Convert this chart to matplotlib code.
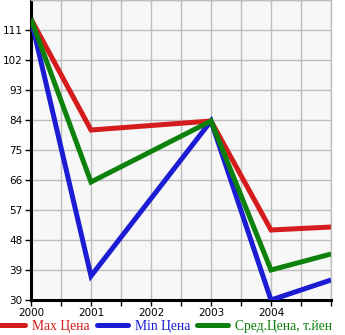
import matplotlib.pyplot as plt
import numpy as np

years = [2000, 2001, 2003, 2004, 2005]
max_price = [114.3, 81.0, 83.7, 51.0, 51.9]
min_price = [114.3, 37.2, 83.7, 30.0, 36.0]
avg_price = [114.3, 65.4, 83.7, 39.0, 43.8]
labels = ["Max Цена", "Min Цена", "Сред.Цена, т.йен"]
colors = ["#d41c1c", "#1c1cd4", "#0c820c"]
y_ticks = [30, 39, 48, 57, 66, 75, 84, 93, 102, 111]
x_ticks = [2000, 2001, 2002, 2003, 2004]

fig = plt.figure(figsize=(3.45, 3.35), dpi=100)
ax = fig.add_axes([31 / 345, 35 / 335, 300 / 345, 300 / 335])
ax.set_facecolor("#f7f7f7")

for vals, lab, c in zip([max_price, min_price, avg_price], labels, colors):
    ax.plot(years, vals, color=c, linewidth=3.6, label=lab,
            solid_capstyle="butt", solid_joinstyle="miter", zorder=3)

ax.set_xlim(2000, 2005)
ax.set_ylim(30, 120)
ax.set_xticks(x_ticks)
ax.set_xticks(np.arange(2000, 2005.01, 0.5), minor=True)
ax.set_yticks(y_ticks)
ax.set_yticks([120], minor=True)
ax.grid(True, which="both", color="#bdbdbd", linewidth=1)
ax.set_axisbelow(True)

for side in ["top", "right"]:
    ax.spines[side].set_color("#bdbdbd")
    ax.spines[side].set_linewidth(1)
for side in ["left", "bottom"]:
    ax.spines[side].set_color("black")
    ax.spines[side].set_linewidth(2.2)

ax.tick_params(axis="both", which="both", direction="out", length=4,
               width=1, color="black", labelsize=7.5, pad=2)
ax.tick_params(axis="y", which="minor", length=0)

# legend handles get round caps like the sample strokes
leg = fig.legend(loc="lower left", bbox_to_anchor=(-0.045, -0.022), ncol=3,
                 frameon=False, labelcolor="linecolor", handlelength=2.3,
                 handletextpad=0.5, columnspacing=0.5, borderpad=0.2,
                 prop={"family": "Liberation Serif", "size": 9.8})
for h in leg.legend_handles:
    h.set_solid_capstyle("round")

fig.savefig("out.png", dpi=100)
